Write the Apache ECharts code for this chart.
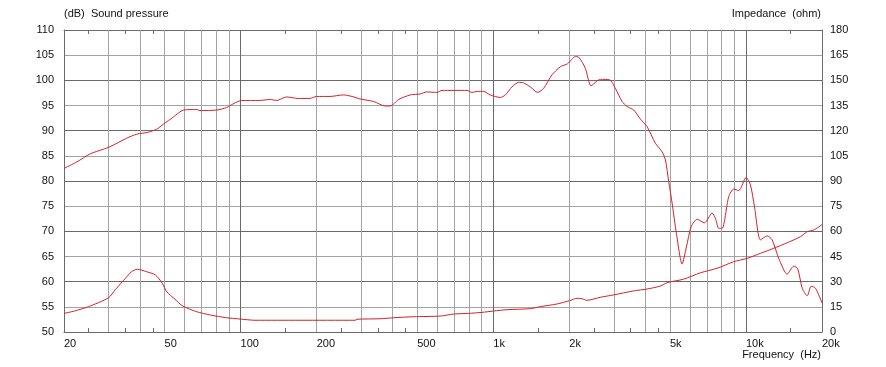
<!DOCTYPE html>
<html>
<head>
<meta charset="utf-8">
<script src="https://cdn.jsdelivr.net/npm/echarts@6/dist/echarts.min.js"></script>
<style>html,body{margin:0;padding:0;background:#fff;}#c{width:886px;height:367px;}</style>
</head>
<body>
<div id="c"></div>
<script>
// Sound pressure (dB)
var splFreq = [20,22.5,25.4,28.6,30.4,35.4,38.8,43.2,46.6,49.5,54.2,59.4,67,69,80.5,88,94,101,119,131,139,152,169,188,200,226,255,276,297,336,373,391,422,469,514,546,598,627,787,824,862,915,973,1066,1116,1186,1260,1318,1401,1498,1582,1708,1843,1969,2113,2178,2314,2438,2576,2654,2888,3042,3234,3386,3596,3822,4062,4382,4658,4800,4948,5102,5306,5590,5814,6068,6408,6848,7348,7572,7804,8050,8548,8948,9366,10020,10422,10810,11416,12134,12700,13490,14566,15468,16044,16700,17478,18126,18852,20000];
var splDb = [82.5,83.8,85.4,86.3,86.8,88.5,89.3,89.7,90.3,91.3,92.7,94.1,94.2,94.0,94.1,94.6,95.4,96.0,96.0,96.2,96.0,96.7,96.4,96.4,96.8,96.8,97.1,96.8,96.3,95.8,94.9,94.9,96.2,97.1,97.3,97.7,97.6,98.0,98.0,97.6,97.8,97.8,97.1,96.6,97.1,98.7,99.6,99.5,98.7,97.6,98.4,101.1,102.7,103.3,104.7,104.6,102.4,98.9,99.9,100.2,100.1,98.4,95.8,94.8,94.1,92.3,90.8,87.5,85.8,84.2,79.9,75.6,69.6,63.5,66.9,70.9,72.4,71.7,73.6,72.6,70.6,70.6,76.9,78.4,78.1,80.7,79.2,74.9,68.3,69.1,68.3,64.6,61.5,63.1,62.5,58.7,57.2,59.1,58.7,55.8];
// Impedance (ohm)
var impFreq = [20,22,25,30,32,35,37,39,42.5,46,49,51,55,59,67,76,88,100,114,172,284,289,357,403,484,617,697,799,902,1003,1133,1401,1535,1788,2006,2146,2246,2350,2654,2996,3596,4062,4586,4876,5672,6604,7692,8948,10112,11416,12886,14566,16444,17478,18558,20000];
var impOhm = [11.1,12.5,15.1,20.4,25.4,32.0,35.9,37.4,35.9,34.0,29.0,24.0,19.5,15.5,12.1,10.1,8.5,7.7,7.0,7.0,7.0,7.6,7.9,8.5,9.1,9.5,10.7,11.1,11.7,12.5,13.3,13.9,15.1,16.7,18.7,20.1,19.8,18.9,20.7,22.1,24.5,25.6,27.4,29.4,31.5,35.3,38.0,41.9,43.9,46.9,49.9,53.2,56.8,59.8,60.8,64.0];
// Axis ticks
var xLabels = [20,50,100,200,500,1000,2000,5000,10000,20000];
var gridFreqs = [30,40,50,60,70,80,90,100,200,300,400,500,600,700,800,900,1000,2000,3000,4000,5000,6000,7000,8000,9000,10000];
var decadeFreqs = [100,1000,10000];
var minorFreqs = [25,35,45,150,250,350,450,1500,2500,3500,4500,15000];
var dbMin = 50, dbMax = 110, dbStep = 5;
var ohmMin = 0, ohmMax = 180, ohmStep = 15;

var DARK = '#6a6a6a', LIGHT = '#a3a3a3', RED = '#d4202a', TXT = '#111';
var FONT = '"Liberation Sans", Arial, sans-serif';

function fmtF(v){ return v >= 1000 ? (v/1000) + 'k' : String(v); }
function zip(a,b){ return a.map(function(v,i){ return [v,b[i]]; }); }

var chart = echarts.init(document.getElementById('c'), null, {renderer:'canvas'});
chart.setOption({
  animation: false,
  backgroundColor: '#fff',
  textStyle: {fontFamily: FONT},
  grid: {left: 64, right: 64, top: 30, bottom: 35, containLabel: false},
  graphic: [
    {type:'text', left: 64, top: 8, style:{text:'(dB)  Sound pressure', fill:TXT, font:'11px ' + FONT}},
    {type:'text', right: 65, top: 8, style:{text:'Impedance  (ohm)', fill:TXT, font:'11px ' + FONT}},
    {type:'text', right: 65, top: 349, style:{text:'Frequency  (Hz)', fill:TXT, font:'11px ' + FONT}}
  ],
  xAxis: [
    {type:'log', logBase:10, min:20, max:20000, position:'bottom',
     axisLine:{show:true, lineStyle:{color:DARK, width:1}},
     axisTick:{show:true, inside:true, length:4, customValues: minorFreqs, lineStyle:{color:DARK}},
     axisLabel:{show:true, customValues: xLabels, formatter: fmtF, color:TXT, fontSize:11, fontFamily:FONT, align:'left', margin:6, showMinLabel:true, showMaxLabel:true},
     splitLine:{show:false}},
    {type:'log', logBase:10, min:20, max:20000, position:'top',
     axisLine:{show:true, lineStyle:{color:DARK, width:1}},
     axisTick:{show:true, inside:true, length:4, customValues: minorFreqs, lineStyle:{color:DARK}},
     axisLabel:{show:false}, splitLine:{show:false}}
  ],
  yAxis: [
    {type:'value', min:dbMin, max:dbMax, interval:dbStep, position:'left',
     axisLine:{show:true, lineStyle:{color:DARK}}, axisTick:{show:false},
     axisLabel:{color:TXT, fontSize:11, fontFamily:FONT, margin:10},
     splitLine:{show:true, lineStyle:{color:[DARK, LIGHT], width:1}}},
    {type:'value', min:ohmMin, max:ohmMax, interval:ohmStep, position:'right',
     axisLine:{show:true, lineStyle:{color:DARK}}, axisTick:{show:false},
     axisLabel:{color:TXT, fontSize:11, fontFamily:FONT, margin:8},
     splitLine:{show:false}}
  ],
  series: [
    {type:'line', name:'Sound pressure', xAxisIndex:0, yAxisIndex:0, data: zip(splFreq, splDb),
     showSymbol:false, smooth:0.25, lineStyle:{color:RED, width:1}, z:3,
     markLine:{silent:true, symbol:['none','none'], z:1, animation:false,
       label:{show:false},
       data: gridFreqs.map(function(f){
         return {xAxis:f, lineStyle:{type:'solid', width:1, color: decadeFreqs.indexOf(f) >= 0 ? DARK : LIGHT}};
       })}},
    {type:'line', name:'Impedance', xAxisIndex:0, yAxisIndex:1, data: zip(impFreq, impOhm),
     showSymbol:false, smooth:0.25, lineStyle:{color:RED, width:1}, z:3}
  ]
});
</script>
</body>
</html>
